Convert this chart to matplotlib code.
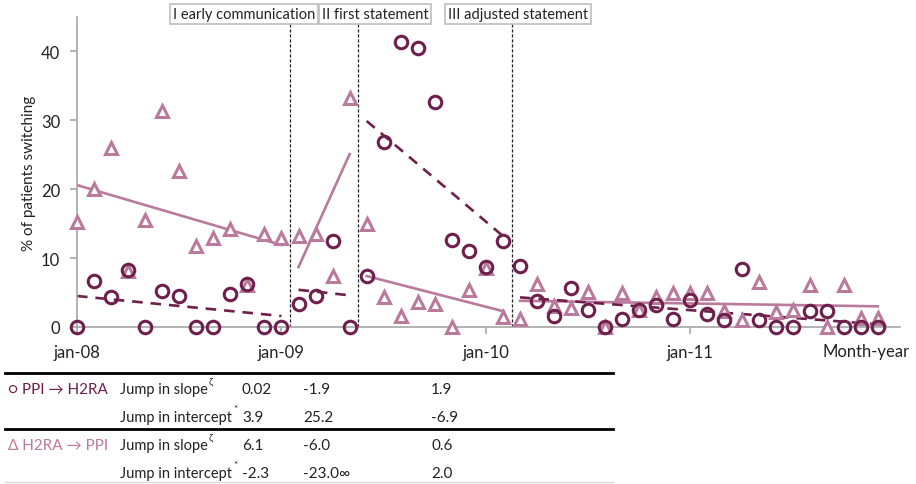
import numpy as np
import matplotlib
matplotlib.use("Agg")
import matplotlib.pyplot as plt
from matplotlib.lines import Line2D

plt.rcParams['font.family'] = ['Lato', 'DejaVu Sans']

# monthly switching percentages, jan-08 .. dec-11
months = np.arange(48)
ppi_h2ra = [0, 6.7, 4.3, 8.3, 0, 5.2, 4.5, 0, 0, 4.8, 6.3, 0, 0,
            3.3, 4.5, 12.5, 0,
            7.4, 26.8, 41.3, 40.5, 32.7, 12.6, 11.0, 8.7, 12.5,
            8.8, 3.8, 1.6, 5.6, 2.5, 0, 1.2, 2.5, 3.2, 1.2, 3.9, 1.9, 1.0, 8.4,
            1.0, 0, 0, 2.3, 2.3, 0, 0, 0]
h2ra_ppi = [15.2, 20.0, 26.0, 8.1, 15.6, 31.4, 22.6, 11.7, 12.9, 14.2, 6.1, 13.5, 12.9,
            13.2, 13.5, 7.4, 33.2,
            14.9, 4.3, 1.6, 3.6, 3.3, 0, 5.4, 8.5, 1.5,
            1.2, 6.2, 3.0, 2.7, 5.1, 0, 4.9, 2.5, 4.4, 5.0, 5.0, 4.9, 2.3, 1.0,
            6.5, 2.2, 2.5, 6.1, 0, 6.1, 1.3, 1.3]

# segmented regression: phase (first month, last month) and fitted start/end values
phases = [(0, 12), (13, 16), (17, 25), (26, 47)]
ppi_fit = [(4.5, 1.6), (5.4, 4.6), (29.9, 13.2), (4.3, 0.4)]
h2ra_fit = [(20.6, 11.9), (8.7, 25.1), (7.4, 2.3), (3.8, 3.0)]

interventions = [12.5, 16.5, 25.5]
intervention_labels = ["I early communication", "II first statement", "III adjusted statement"]
label_pos = [244, 375, 518]  # pixel centres of the label boxes

xtick_pos = [0, 12, 24, 36]
xtick_labels = ["jan-08", "jan-09", "jan-10", "jan-11"]

# table of jumps
table_rows = ["Jump in slope", "Jump in intercept", "Jump in slope", "Jump in intercept"]
table_marks = ["ζ", "*", "ζ", "*"]
table_vals = [["0.02", "-1.9", "1.9"],
              ["3.9", "25.2", "-6.9"],
              ["6.1", "-6.0", "0.6"],
              ["-2.3", "-23.0∞", "2.0"]]

dark = "#6E1F4C"
light = "#B97A9B"
grey = "#A6A6A6"

W, H = 916, 485
fig = plt.figure(figsize=(W / 100, H / 100), dpi=100)
ax = fig.add_axes([77 / W, 1 - 328 / H, (900 - 77) / W, (328 - 18) / H])

ax.plot(months, h2ra_ppi, linestyle='none', marker='^', ms=9, mfc='white',
        mec=light, mew=2.2, zorder=3, clip_on=False)
ax.plot(months, ppi_h2ra, linestyle='none', marker='o', ms=9, mfc='none',
        mec=dark, mew=2.2, zorder=4, clip_on=False)

for (a, b), (p0, p1), (h0, h1) in zip(phases, ppi_fit, h2ra_fit):
    ax.plot([a, b], [h0, h1], color=light, lw=1.9, zorder=2)
    ax.plot([a, b], [p0, p1], color=dark, lw=1.9, dashes=(4, 3), zorder=2)

for xv in interventions:
    ax.plot([xv, xv], [0, 44.2], color='#222222', lw=0.9, dashes=(2.5, 1.5), zorder=1)

ax.set_xlim(0, 48.3)
ax.set_ylim(0, 45)
ax.set_yticks([0, 10, 20, 30, 40])
ax.set_xticks(xtick_pos)
ax.set_xticklabels(xtick_labels)
for s in ['top', 'right']:
    ax.spines[s].set_visible(False)
for s in ['left', 'bottom']:
    ax.spines[s].set_color(grey)
    ax.spines[s].set_linewidth(1.2)
ax.tick_params(axis='both', colors=grey, labelcolor='#222222', labelsize=12,
               length=5, width=1.2)
ax.tick_params(axis='y', pad=7)
ax.tick_params(axis='x', pad=7)
ax.set_ylabel("% of patients switching", fontsize=11, color='#222222', labelpad=4)

fig.text(910 / W, 1 - 352 / H, "Month-year", ha='right', va='center', fontsize=12,
         color='#222222')

for txt, xp in zip(intervention_labels, label_pos):
    fig.text(xp / W, 1 - 15 / H, txt, ha='center', va='center', fontsize=10.5,
             color='#222222',
             bbox=dict(boxstyle='square,pad=0.2', fc='white', ec='#BFBFBF', lw=1.2))

# table below the chart
fig.add_artist(Line2D([5 / W, 613 / W], [1 - 374 / H] * 2, color='black', lw=2))
fig.add_artist(Line2D([5 / W, 613 / W], [1 - 430 / H] * 2, color='black', lw=2))
fig.add_artist(Line2D([5 / W, 613 / W], [1 - 483 / H] * 2, color='#D9D9D9', lw=1))

row_y = [390, 418, 446, 474]
fig.text(8 / W, 1 - row_y[0] / H, "○ PPI → H2RA", ha='left', va='center',
         fontsize=11, color=dark)
fig.text(8 / W, 1 - row_y[2] / H, "Δ H2RA → PPI", ha='left', va='center',
         fontsize=11, color=light)
col_x = [242, 303, 431]
renderer = fig.canvas.get_renderer()
for i, yp in enumerate(row_y):
    t = fig.text(120 / W, 1 - yp / H, table_rows[i], ha='left', va='center',
                 fontsize=10.5, color='#222222')
    bb = t.get_window_extent(renderer)
    fig.text((bb.x1 + 1) / W, 1 - (yp - 8) / H, table_marks[i], ha='left', va='center',
             fontsize=7, color='#222222')
    for cx, v in zip(col_x, table_vals[i]):
        fig.text(cx / W, 1 - yp / H, v, ha='left', va='center', fontsize=11,
                 color='#222222')

fig.savefig("out.png", dpi=100)
